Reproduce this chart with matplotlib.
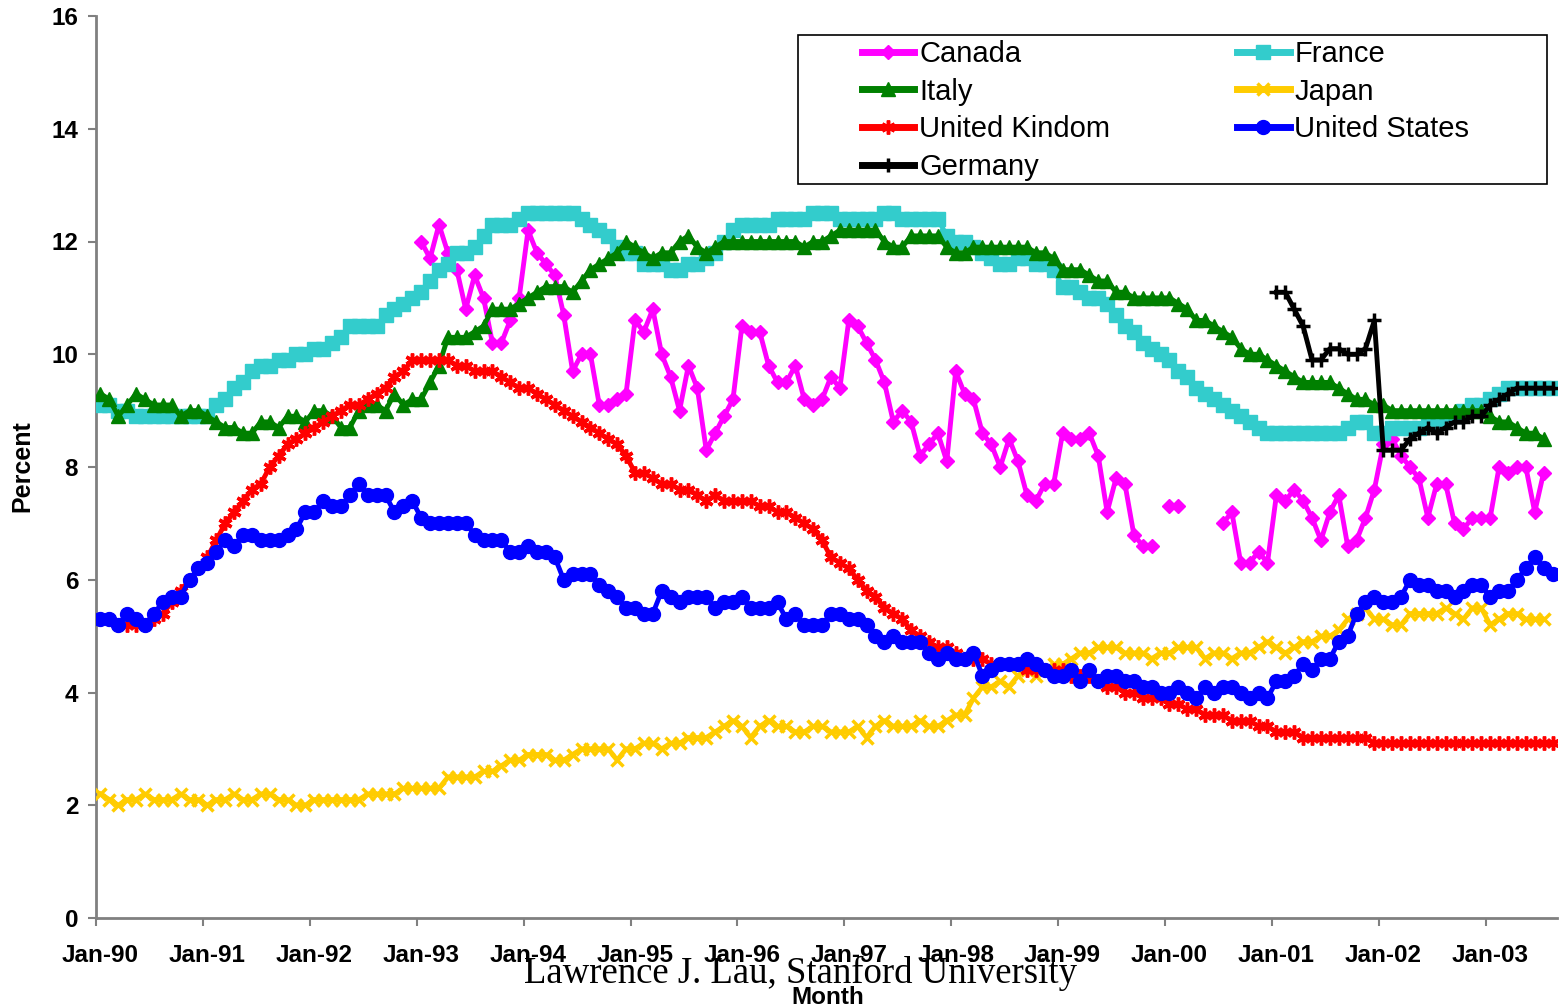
import numpy as np
import pandas as pd
import matplotlib
matplotlib.use("Agg")
import matplotlib.pyplot as plt
from matplotlib import font_manager
from matplotlib.patches import Rectangle

# monthly unemployment rates, Jan-90 .. Aug-03 (NSA)
months = pd.date_range("1990-01-01", "2003-08-01", freq="MS")

canada_start = "1993-01-01"
canada = [
  12.0, 11.7, 12.3, 11.8, 11.5, 10.8, 11.4, 11.0, 10.2, 10.2, 10.6, 11.0,
  12.2, 11.8, 11.6, 11.4, 10.7, 9.7, 10.0, 10.0, 9.1, 9.1, 9.2, 9.3,
  10.6, 10.4, 10.8, 10.0, 9.6, 9.0, 9.8, 9.4, 8.3, 8.6, 8.9, 9.2,
  10.5, 10.4, 10.4, 9.8, 9.5, 9.5, 9.8, 9.2, 9.1, 9.2, 9.6, 9.4,
  10.6, 10.5, 10.2, 9.9, 9.5, 8.8, 9.0, 8.8, 8.2, 8.4, 8.6, 8.1,
  9.7, 9.3, 9.2, 8.6, 8.4, 8.0, 8.5, 8.1, 7.5, 7.4, 7.7, 7.7,
  8.6, 8.5, 8.5, 8.6, 8.2, 7.2, 7.8, 7.7, 6.8, 6.6, 6.6, None,
  7.3, 7.3, None, None, None, None, 7.0, 7.2, 6.3, 6.3, 6.5, 6.3,
  7.5, 7.4, 7.6, 7.4, 7.1, 6.7, 7.2, 7.5, 6.6, 6.7, 7.1, 7.6,
  8.4, 8.5, 8.2, 8.0, 7.8, 7.1, 7.7, 7.7, 7.0, 6.9, 7.1, 7.1,
  7.1, 8.0, 7.9, 8.0, 8.0, 7.2, 7.9,
]

france = [
  9.1, 9.1, 9.0, 9.0, 8.9, 8.9, 8.9, 8.9, 8.9, 8.9, 8.9, 8.9,
  8.9, 9.1, 9.2, 9.4, 9.5, 9.7, 9.8, 9.8, 9.9, 9.9, 10.0, 10.0,
  10.1, 10.1, 10.2, 10.3, 10.5, 10.5, 10.5, 10.5, 10.7, 10.8, 10.9, 11.0,
  11.1, 11.3, 11.5, 11.6, 11.8, 11.8, 11.9, 12.1, 12.3, 12.3, 12.3, 12.4,
  12.5, 12.5, 12.5, 12.5, 12.5, 12.5, 12.4, 12.3, 12.2, 12.1, 11.9, 11.8,
  11.8, 11.6, 11.6, 11.6, 11.5, 11.5, 11.6, 11.6, 11.7, 11.8, 12.0, 12.2,
  12.3, 12.3, 12.3, 12.3, 12.4, 12.4, 12.4, 12.4, 12.5, 12.5, 12.5, 12.4,
  12.4, 12.4, 12.4, 12.4, 12.5, 12.5, 12.4, 12.4, 12.4, 12.4, 12.4, 12.1,
  12.0, 12.0, 11.9, 11.8, 11.7, 11.6, 11.6, 11.7, 11.7, 11.6, 11.6, 11.5,
  11.2, 11.2, 11.1, 11.0, 11.0, 10.9, 10.7, 10.5, 10.4, 10.2, 10.1, 10.0,
  9.9, 9.7, 9.6, 9.4, 9.3, 9.2, 9.1, 9.0, 8.9, 8.8, 8.7, 8.6,
  8.6, 8.6, 8.6, 8.6, 8.6, 8.6, 8.6, 8.6, 8.7, 8.8, 8.8, 8.6,
  8.6, 8.7, 8.7, 8.7, 8.7, 8.8, 8.8, 8.9, 8.9, 9.0, 9.1, 9.1,
  9.2, 9.3, 9.4, 9.4, 9.4, 9.4, 9.4, 9.4,
]

italy = [
  9.3, 9.2, 8.9, 9.1, 9.3, 9.2, 9.1, 9.1, 9.1, 8.9, 9.0, 9.0,
  8.9, 8.8, 8.7, 8.7, 8.6, 8.6, 8.8, 8.8, 8.7, 8.9, 8.9, 8.8,
  9.0, 9.0, 8.9, 8.7, 8.7, 9.0, 9.1, 9.1, 9.0, 9.3, 9.1, 9.2,
  9.2, 9.5, 9.8, 10.3, 10.3, 10.3, 10.4, 10.5, 10.8, 10.8, 10.8, 10.9,
  11.0, 11.1, 11.2, 11.2, 11.2, 11.1, 11.3, 11.5, 11.6, 11.7, 11.8, 12.0,
  11.9, 11.8, 11.7, 11.8, 11.8, 12.0, 12.1, 11.9, 11.8, 11.9, 12.0, 12.0,
  12.0, 12.0, 12.0, 12.0, 12.0, 12.0, 12.0, 11.9, 12.0, 12.0, 12.1, 12.2,
  12.2, 12.2, 12.2, 12.2, 12.0, 11.9, 11.9, 12.1, 12.1, 12.1, 12.1, 11.9,
  11.8, 11.8, 11.9, 11.9, 11.9, 11.9, 11.9, 11.9, 11.9, 11.8, 11.8, 11.7,
  11.5, 11.5, 11.5, 11.4, 11.3, 11.3, 11.1, 11.1, 11.0, 11.0, 11.0, 11.0,
  11.0, 10.9, 10.8, 10.6, 10.6, 10.5, 10.4, 10.3, 10.1, 10.0, 10.0, 9.9,
  9.8, 9.7, 9.6, 9.5, 9.5, 9.5, 9.5, 9.4, 9.3, 9.2, 9.2, 9.1,
  9.1, 9.0, 9.0, 9.0, 9.0, 9.0, 9.0, 9.0, 9.0, 9.0, 9.0, 9.0,
  8.9, 8.8, 8.8, 8.7, 8.6, 8.6, 8.5,
]

japan = [
  2.2, 2.1, 2.0, 2.1, 2.1, 2.2, 2.1, 2.1, 2.1, 2.2, 2.1, 2.1,
  2.0, 2.1, 2.1, 2.2, 2.1, 2.1, 2.2, 2.2, 2.1, 2.1, 2.0, 2.0,
  2.1, 2.1, 2.1, 2.1, 2.1, 2.1, 2.2, 2.2, 2.2, 2.2, 2.3, 2.3,
  2.3, 2.3, 2.3, 2.5, 2.5, 2.5, 2.5, 2.6, 2.6, 2.7, 2.8, 2.8,
  2.9, 2.9, 2.9, 2.8, 2.8, 2.9, 3.0, 3.0, 3.0, 3.0, 2.8, 3.0,
  3.0, 3.1, 3.1, 3.0, 3.1, 3.1, 3.2, 3.2, 3.2, 3.3, 3.4, 3.5,
  3.4, 3.2, 3.4, 3.5, 3.4, 3.4, 3.3, 3.3, 3.4, 3.4, 3.3, 3.3,
  3.3, 3.4, 3.2, 3.4, 3.5, 3.4, 3.4, 3.4, 3.5, 3.4, 3.4, 3.5,
  3.6, 3.6, 3.9, 4.1, 4.1, 4.2, 4.1, 4.3, 4.4, 4.3, 4.4, 4.5,
  4.5, 4.6, 4.7, 4.7, 4.8, 4.8, 4.8, 4.7, 4.7, 4.7, 4.6, 4.7,
  4.7, 4.8, 4.8, 4.8, 4.6, 4.7, 4.7, 4.6, 4.7, 4.7, 4.8, 4.9,
  4.8, 4.7, 4.8, 4.9, 4.9, 5.0, 5.0, 5.1, 5.3, 5.4, 5.5, 5.3,
  5.3, 5.2, 5.2, 5.4, 5.4, 5.4, 5.4, 5.5, 5.4, 5.3, 5.5, 5.5,
  5.2, 5.3, 5.4, 5.4, 5.3, 5.3, 5.3,
]

uk = [
  5.3, 5.3, 5.2, 5.2, 5.2, 5.2, 5.3, 5.4, 5.6, 5.8, 6.0, 6.2,
  6.4, 6.7, 7.0, 7.2, 7.4, 7.6, 7.7, 8.0, 8.2, 8.4, 8.5, 8.6,
  8.7, 8.8, 8.9, 9.0, 9.1, 9.1, 9.2, 9.3, 9.4, 9.6, 9.7, 9.9,
  9.9, 9.9, 9.9, 9.9, 9.8, 9.8, 9.7, 9.7, 9.7, 9.6, 9.5, 9.4,
  9.4, 9.3, 9.2, 9.1, 9.0, 8.9, 8.8, 8.7, 8.6, 8.5, 8.4, 8.2,
  7.9, 7.9, 7.8, 7.7, 7.7, 7.6, 7.6, 7.5, 7.4, 7.5, 7.4, 7.4,
  7.4, 7.4, 7.3, 7.3, 7.2, 7.2, 7.1, 7.0, 6.9, 6.7, 6.4, 6.3,
  6.2, 6.0, 5.8, 5.7, 5.5, 5.4, 5.3, 5.1, 5.0, 4.9, 4.8, 4.8,
  4.7, 4.6, 4.6, 4.6, 4.5, 4.5, 4.5, 4.5, 4.4, 4.4, 4.4, 4.4,
  4.4, 4.3, 4.3, 4.3, 4.2, 4.1, 4.1, 4.0, 4.0, 3.9, 3.9, 3.9,
  3.8, 3.8, 3.7, 3.7, 3.6, 3.6, 3.6, 3.5, 3.5, 3.5, 3.4, 3.4,
  3.3, 3.3, 3.3, 3.2, 3.2, 3.2, 3.2, 3.2, 3.2, 3.2, 3.2, 3.1,
  3.1, 3.1, 3.1, 3.1, 3.1, 3.1, 3.1, 3.1, 3.1, 3.1, 3.1, 3.1,
  3.1, 3.1, 3.1, 3.1, 3.1, 3.1, 3.1, 3.1,
]

us = [
  5.3, 5.3, 5.2, 5.4, 5.3, 5.2, 5.4, 5.6, 5.7, 5.7, 6.0, 6.2,
  6.3, 6.5, 6.7, 6.6, 6.8, 6.8, 6.7, 6.7, 6.7, 6.8, 6.9, 7.2,
  7.2, 7.4, 7.3, 7.3, 7.5, 7.7, 7.5, 7.5, 7.5, 7.2, 7.3, 7.4,
  7.1, 7.0, 7.0, 7.0, 7.0, 7.0, 6.8, 6.7, 6.7, 6.7, 6.5, 6.5,
  6.6, 6.5, 6.5, 6.4, 6.0, 6.1, 6.1, 6.1, 5.9, 5.8, 5.7, 5.5,
  5.5, 5.4, 5.4, 5.8, 5.7, 5.6, 5.7, 5.7, 5.7, 5.5, 5.6, 5.6,
  5.7, 5.5, 5.5, 5.5, 5.6, 5.3, 5.4, 5.2, 5.2, 5.2, 5.4, 5.4,
  5.3, 5.3, 5.2, 5.0, 4.9, 5.0, 4.9, 4.9, 4.9, 4.7, 4.6, 4.7,
  4.6, 4.6, 4.7, 4.3, 4.4, 4.5, 4.5, 4.5, 4.6, 4.5, 4.4, 4.3,
  4.3, 4.4, 4.2, 4.4, 4.2, 4.3, 4.3, 4.2, 4.2, 4.1, 4.1, 4.0,
  4.0, 4.1, 4.0, 3.9, 4.1, 4.0, 4.1, 4.1, 4.0, 3.9, 4.0, 3.9,
  4.2, 4.2, 4.3, 4.5, 4.4, 4.6, 4.6, 4.9, 5.0, 5.4, 5.6, 5.7,
  5.6, 5.6, 5.7, 6.0, 5.9, 5.9, 5.8, 5.8, 5.7, 5.8, 5.9, 5.9,
  5.7, 5.8, 5.8, 6.0, 6.2, 6.4, 6.2, 6.1,
]

germany_start = "2001-01-01"
germany = [
  11.1, 11.1, 10.8, 10.5, 9.9, 9.9, 10.1, 10.1, 10.0, 10.0, 10.1, 10.6,
  8.3, 8.3, 8.3, 8.5, 8.6, 8.7, 8.6, 8.7, 8.8, 8.8, 8.9, 8.9,
  9.1, 9.2, 9.3, 9.4, 9.4, 9.4, 9.4, 9.4,
]

# name, values, first month, colour, marker, marker size
series = [
  ("Canada", canada, canada_start, "#FF00FF", "D", 7),
  ("France", france, "1990-01-01", "#33CCCC", "s", 10),
  ("Italy", italy, "1990-01-01", "#008000", "^", 10),
  ("Japan", japan, "1990-01-01", "#FFCC00", "x", 9),
  ("United Kindom", uk, "1990-01-01", "#FF0000", (6, 2, 0), 10),
  ("United States", us, "1990-01-01", "#0000FF", "o", 10),
  ("Germany", germany, germany_start, "#000000", "+", 10),
]

names = {f.name for f in font_manager.fontManager.ttflist}
sans = "Liberation Sans" if "Liberation Sans" in names else "DejaVu Sans"
serif = "Liberation Serif" if "Liberation Serif" in names else "DejaVu Serif"
plt.rcParams["font.family"] = [sans, "DejaVu Sans"]

fig = plt.figure(figsize=(15.59, 10.08), dpi=100)
W, H = 1559, 1008
ax = fig.add_axes([96 / W, 90 / H, (1557 - 96) / W, 902 / H])

lines = {}
for k, (name, vals, start, color, marker, ms) in enumerate(series):
  i0 = months.get_loc(pd.Timestamp(start))
  y = np.array(vals, dtype=float)
  x = np.arange(i0, i0 + len(y)) + 0.5
  mew = 2.5 if marker in ("x", "+") or isinstance(marker, tuple) else 1
  ln, = ax.plot(x, y, color=color, lw=3.5, marker=marker, ms=ms,
                mec=color, mfc=color, mew=mew, zorder=2 + k, label=name,
                solid_joinstyle="round")
  lines[name] = ln

ax.set_xlim(0, len(months))
ax.set_ylim(0, 16)
ax.set_yticks(np.arange(0, 17, 2))
ax.set_yticklabels([str(v) for v in range(0, 17, 2)], fontsize=17.5, fontweight="bold")

# tick marks on each January, labels centred on the January point
jan = np.arange(0, len(months), 12)
ax.set_xticks(jan)
ax.set_xticklabels([])
ax.set_xticks(jan + 0.5, minor=True)
ax.set_xticklabels(months[jan].strftime("%b-%y"), minor=True, fontsize=17.5, fontweight="bold")
ax.tick_params(axis="x", which="minor", length=0, pad=19)
ax.tick_params(axis="both", which="major", length=5.8, width=1.5, color="#808080", direction="out")
ax.tick_params(axis="y", pad=7)

for s in ("top", "right"):
  ax.spines[s].set_visible(False)
for s in ("left", "bottom"):
  ax.spines[s].set_color("#808080")
  ax.spines[s].set_linewidth(2)

fig.text(22 / W, 1 - 466 / H, "Percent", rotation=90, ha="center", va="center",
         fontsize=18, fontweight="bold")
fig.text(828 / W, 1 - 998 / H, "Month", ha="center", va="center",
         fontsize=17.5, fontweight="bold")
fig.text(800 / W, 1 - 973 / H, "Lawrence J. Lau, Stanford University", ha="center",
         va="center", fontsize=26.5, family=serif)

# legend: box plus two columns
fig.add_artist(Rectangle((798 / W, 1 - 184 / H), (1547 - 798) / W, (184 - 35) / H,
                         transform=fig.transFigure, fill=False, ec="black", lw=1.2))
col1 = ["Canada", "Italy", "United Kindom", "Germany"]
col2 = ["France", "Japan", "United States"]
for names_col, x0 in ((col1, 862), (col2, 1237)):
  leg = fig.legend([lines[n] for n in names_col], names_col, loc="upper left",
                   bbox_to_anchor=(x0 / W, 1 - 40 / H), frameon=False, borderpad=0,
                   borderaxespad=0, numpoints=1, handlelength=1.8, handletextpad=0.17,
                   labelspacing=0.33, prop={"family": sans, "size": 21})
  for h in leg.legend_handles:
    h.set_linewidth(5)

fig.savefig("out.png", dpi=100)
